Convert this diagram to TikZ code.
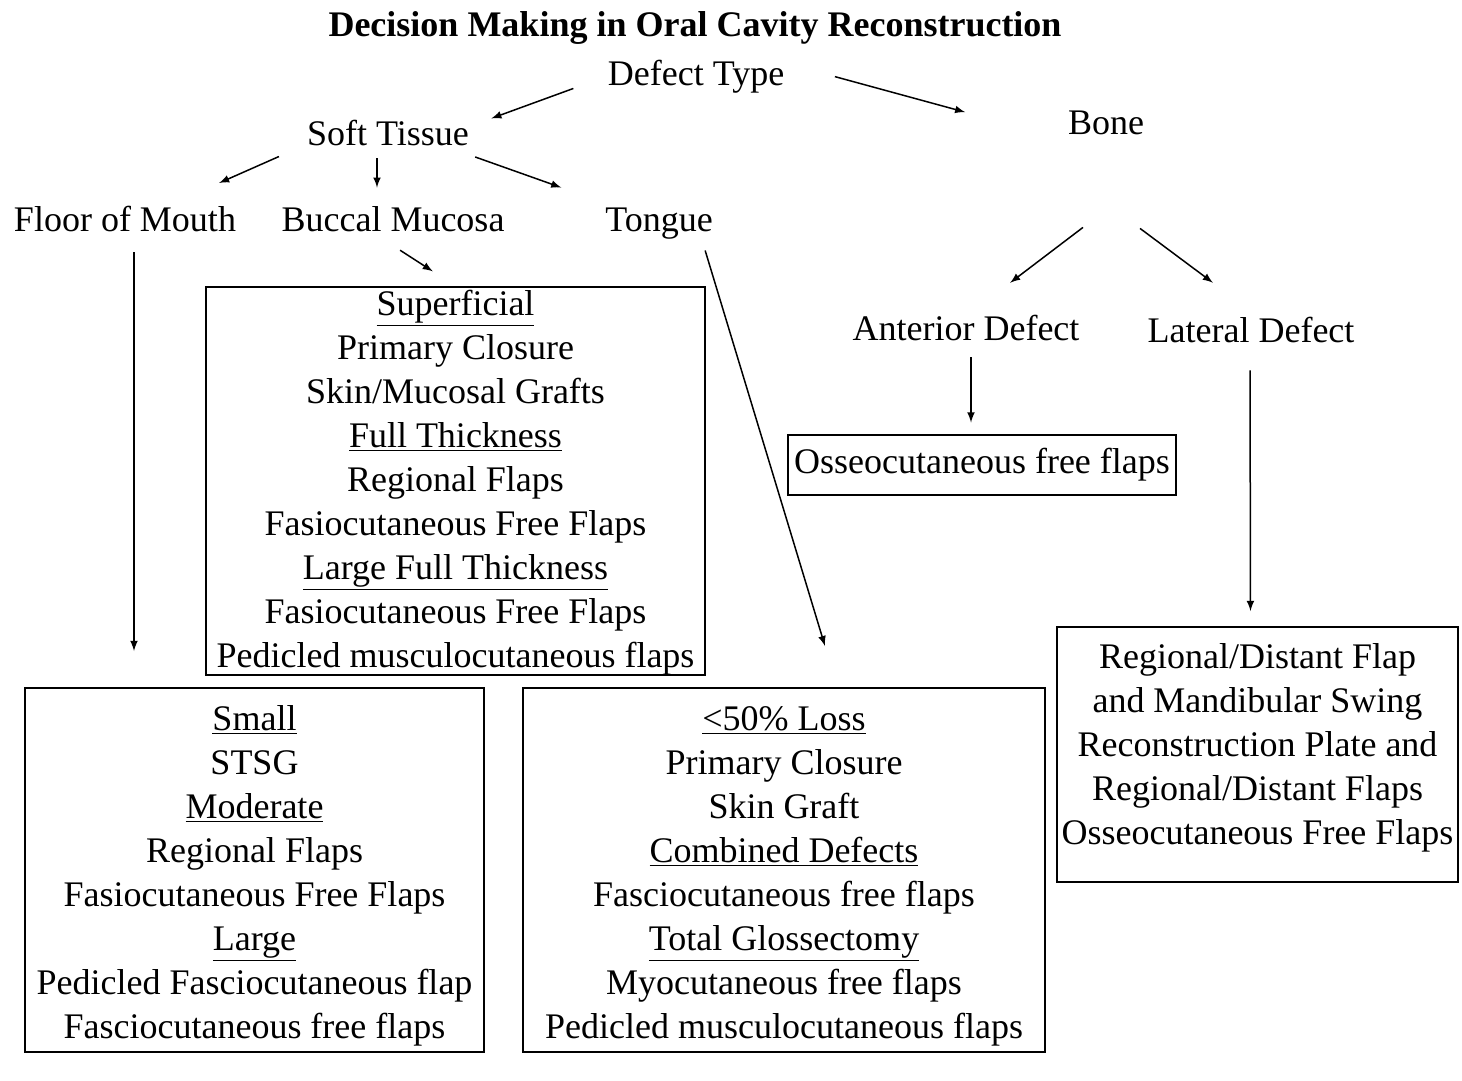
\documentclass[tikz,border=0pt]{standalone}
\usepackage{fontspec}
\setmainfont{Liberation Serif}
\usepackage{tikz}
\usetikzlibrary{positioning,arrows}

\begin{document}
\begin{tikzpicture}[x=0.5pt,y=-0.5pt,
    every node/.style={on grid,font=\fontsize{18}{22}\selectfont},
    lbl/.style={text height=12.5pt,text depth=4pt,inner sep=2pt},
    box/.style={draw,line width=1pt,align=center,inner sep=0pt},
    arr/.style={-latex,line width=0.75pt}]
  \useasboundingbox (0,0) rectangle (1462,1081);
  \node[lbl,font=\fontsize{18}{22}\selectfont\bfseries] (title) at (695,28.5) {Decision Making in Oral Cavity Reconstruction};
  \node[lbl] (DT) at (696,77.5) {Defect Type};
  \node[lbl] (ST) at (388,137.5) {Soft Tissue};
  \node[lbl] (B) at (1106,125.5) {Bone};
  \node[lbl] (BM) at (393,222.5) {Buccal Mucosa};
  \node[lbl,left=134pt of BM] (FM) {Floor of Mouth};
  \node[lbl,right=133pt of BM] (TG) {Tongue};
  \node[lbl] (AD) at (966,331.5) {Anterior Defect};
  \node[lbl] (LD) at (1251,333.5) {Lateral Defect};
  \node[box,minimum width=194pt,minimum height=30pt] (Os) at (982,464.5) {Osseocutaneous free flaps};
  \node[box,minimum width=249.5pt,minimum height=194pt] (Sup) at (455.5,481) {\rule{0pt}{14pt}\underline{Superficial}\\Primary Closure\\Skin/Mucosal Grafts\\\underline{Full Thickness}\\Regional Flaps\\Fasiocutaneous Free Flaps\\\underline{Large Full Thickness}\\Fasiocutaneous Free Flaps\\Pedicled musculocutaneous flaps};
  \node[box,minimum width=229.5pt,minimum height=182pt] (Sm) at (254.5,870) {\rule{0pt}{18pt}\underline{Small}\\STSG\\\underline{Moderate}\\Regional Flaps\\Fasiocutaneous Free Flaps\\\underline{Large}\\Pedicled Fasciocutaneous flap\\Fasciocutaneous free flaps};
  \node[box,minimum width=261pt,minimum height=182pt,right=264.75pt of Sm] (Ls) {\rule{0pt}{18pt}\underline{<50\% Loss}\\Primary Closure\\Skin Graft\\\underline{Combined Defects}\\Fasciocutaneous free flaps\\\underline{Total Glossectomy}\\Myocutaneous free flaps\\Pedicled musculocutaneous flaps};
  \node[box,minimum width=200.5pt,minimum height=127.5pt] (Rg) at (1257.5,754.5) {Regional/Distant Flap\\and Mandibular Swing\\Reconstruction Plate and\\Regional/Distant Flaps\\Osseocutaneous Free Flaps\rule[-10pt]{0pt}{0pt}};
  % arrows
  \draw[arr,shorten <=16pt,shorten >=9.6pt] (DT.west) -- ([yshift=6.25pt]ST.east);
  \draw[arr,shorten <=24pt,shorten >=51pt] ([yshift=6.75pt]DT.east) -- ([yshift=-6.75pt]B.west);
  \draw[arr,shorten <=13pt,shorten >=23pt] ([yshift=-4.25pt]ST.west) -- ([xshift=-31.7pt]FM.north east);
  \draw[arr,shorten >=7pt] ([xshift=-5.5pt]ST.south) -- ([xshift=-8pt]BM.north);
  \draw[arr,shorten <=1pt,shorten >=21pt] ([yshift=-9.4pt]ST.east) -- (TG.north west);
  \draw[arr,shorten <=6.3pt,shorten >=13.5pt] ([xshift=-1.75pt]BM.south) -- (Sup.north);
  \draw[arr,shorten <=4.5pt,shorten >=18pt] ([xshift=4.5pt]FM.south) -- ([xshift=-60.25pt]Sm.north);
  \draw[arr,shorten <=3.7pt,shorten >=21.4pt] ([xshift=22pt]TG.south) -- ([xshift=26.7pt]Ls.north);
  \draw[arr,shorten >=23pt] ([xshift=-11.5pt,yshift=-40.5pt]B.south) -- ([xshift=3.75pt]AD.north);
  \draw[arr,shorten >=25pt] ([xshift=17pt,yshift=-41pt]B.south) -- ([xshift=1pt]LD.north);
  \draw[arr,shorten <=2.5pt,shorten >=5.5pt] ([xshift=2.5pt]AD.south) -- ([xshift=-5.5pt]Os.north);
  \draw[arr,shorten <=8pt,shorten >=7.5pt] ([xshift=-0.5pt]LD.south) -- ([xshift=-3.5pt]Rg.north);
\end{tikzpicture}
\end{document}
